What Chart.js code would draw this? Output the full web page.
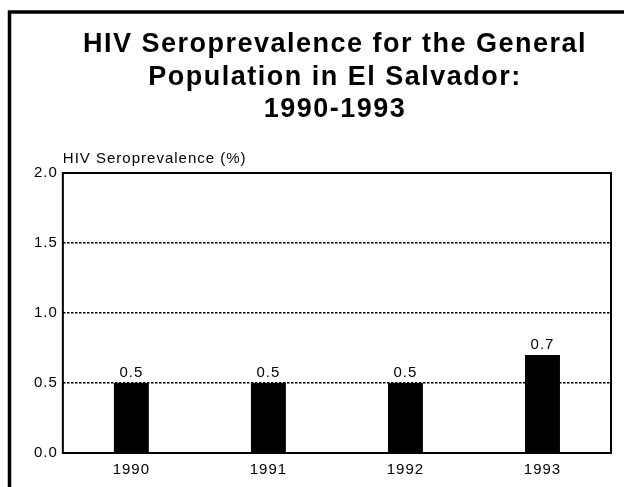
<!DOCTYPE html>
<html>
<head>
<meta charset="utf-8">
<style>
  html, body { margin: 0; padding: 0; background: #fff; }
  #wrap { position: relative; width: 624px; height: 487px; overflow: hidden; }
  canvas { display: block; }
</style>
<script src="https://cdn.jsdelivr.net/npm/chart.js@4/dist/chart.umd.min.js"></script>
</head>
<body>
<div id="wrap"><canvas id="c" width="624" height="487"></canvas></div>
<script>
// Survey years and seroprevalence (%) for each year
const years = ['1990', '1991', '1992', '1993'];
const prevalence = [0.5, 0.5, 0.5, 0.7];
const yTicks = [0.0, 0.5, 1.0, 1.5, 2.0];

const titleLines = ['HIV Seroprevalence for the General', 'Population in El Salvador:', '1990-1993'];
const axisCaption = 'HIV Seroprevalence (%)';
const FONT = '"Liberation Sans", Arial, Helvetica, sans-serif';
const TEXT_SPACING = '1px';

// Wide-set lettering for every label the library measures and draws
const spacing = {
  id: 'spacing',
  beforeLayout(chart) { chart.ctx.letterSpacing = TEXT_SPACING; },
  beforeDraw(chart) { chart.ctx.letterSpacing = TEXT_SPACING; }
};

// Page frame, title, plot box, axis caption and value labels
const decorations = {
  id: 'decorations',
  beforeDraw(chart) {
    const ctx = chart.ctx;
    ctx.save();
    ctx.fillStyle = '#fff';
    ctx.fillRect(0, 0, chart.width, chart.height);
    ctx.strokeStyle = '#000';
    ctx.lineWidth = 3.5;
    ctx.beginPath();
    ctx.moveTo(9.5, chart.height);
    ctx.lineTo(9.5, 12);
    ctx.lineTo(chart.width, 12);
    ctx.stroke();

    ctx.fillStyle = '#000';
    ctx.font = 'bold 27px ' + FONT;
    ctx.letterSpacing = '1.5px';
    ctx.textAlign = 'center';
    ctx.textBaseline = 'alphabetic';
    titleLines.forEach((line, i) => ctx.fillText(line, 335, 52 + i * 32.5));
    ctx.restore();
  },
  afterDatasetsDraw(chart) {
    const ctx = chart.ctx;
    const a = chart.chartArea;
    ctx.save();
    ctx.strokeStyle = '#000';
    ctx.lineWidth = 2;
    ctx.strokeRect(a.left, a.top, a.right - a.left, a.bottom - a.top);

    ctx.fillStyle = '#000';
    ctx.font = '15px ' + FONT;
    ctx.textAlign = 'left';
    ctx.textBaseline = 'alphabetic';
    ctx.fillText(axisCaption, a.left, a.top - 10);

    ctx.textAlign = 'center';
    const meta = chart.getDatasetMeta(0);
    meta.data.forEach((bar, i) => {
      ctx.fillText(prevalence[i].toFixed(1), bar.x, bar.y - 6);
    });
    ctx.restore();
  }
};

new Chart(document.getElementById('c'), {
  type: 'bar',
  data: {
    labels: years,
    datasets: [{
      data: prevalence,
      backgroundColor: '#000',
      borderWidth: 0,
      barPercentage: 0.255,
      categoryPercentage: 1.0
    }]
  },
  options: {
    responsive: false,
    animation: false,
    devicePixelRatio: 1,
    layout: { padding: { left: 29, right: 13, top: 173, bottom: 0 } },
    plugins: {
      legend: { display: false },
      tooltip: { enabled: false },
      title: { display: false }
    },
    scales: {
      x: {
        grid: { display: false, drawTicks: false },
        border: { display: false },
        ticks: { color: '#000', font: { family: FONT, size: 15 }, padding: 8 }
      },
      y: {
        min: 0,
        max: 2,
        afterBuildTicks(scale) { scale.ticks = yTicks.map(v => ({ value: v })); },
        grid: {
          color: '#000',
          lineWidth: 1.5,
          drawTicks: false,
          tickLength: 0
        },
        border: { display: false, dash: [2.5, 1.5] },
        ticks: {
          color: '#000',
          font: { family: FONT, size: 15 },
          padding: 5,
          callback: v => Number(v).toFixed(1)
        }
      }
    }
  },
  plugins: [spacing, decorations]
});
</script>
</body>
</html>
